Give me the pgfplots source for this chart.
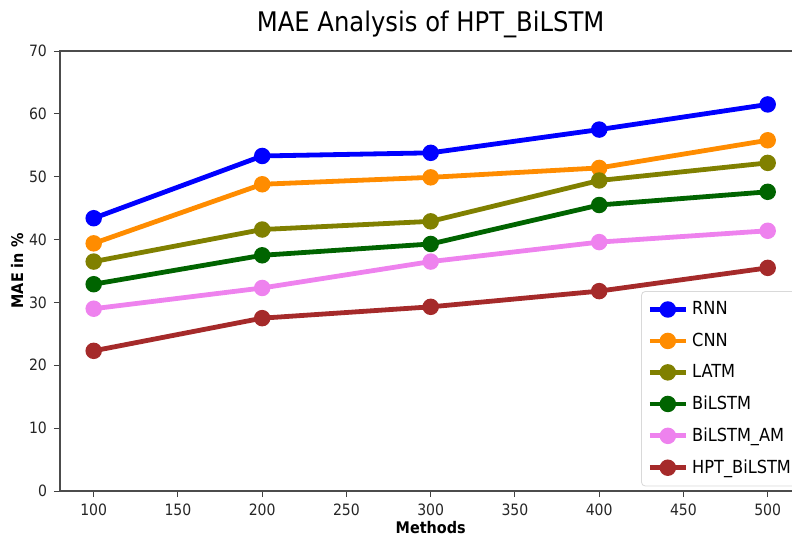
\documentclass[border=0pt]{standalone}
\usepackage{fontspec}
\setmainfont{DejaVu Sans Condensed}
\usepackage{pgfplots}
\pgfplotsset{compat=1.18}

\definecolor{cRNN}{RGB}{0,0,255}
\definecolor{cCNN}{RGB}{255,140,0}
\definecolor{cLATM}{RGB}{128,128,0}
\definecolor{cBiLSTM}{RGB}{0,100,0}
\definecolor{cAM}{RGB}{238,130,238}
\definecolor{cHPT}{RGB}{165,42,42}

\begin{document}
\begin{tikzpicture}
\clip (-30pt,-23.5pt) rectangle (366pt,245.5pt);
\begin{axis}[
    scale only axis,
    width=370.7pt,
    height=220pt,
    xmin=80, xmax=520,
    ymin=0, ymax=70,
    xtick={100,150,...,500},
    ytick={0,10,...,70},
    tick align=outside,
    tick pos=left,
    major tick length=3pt,
    tick style={black!75, line width=0.5pt},
    axis line style={black!70, line width=0.7pt},
    /pgf/number format/assume math mode=true,
    tick label style={font=\fontsize{7.8}{9}\selectfont, text=black!85},
    xlabel={\textbf{Methods}},
    ylabel={\textbf{MAE in \%}},
    label style={font=\fontsize{8}{9}\selectfont},
    xlabel style={yshift=4pt},
    ylabel style={yshift=-4pt},
    title={MAE Analysis of HPT\_BiLSTM},
    title style={font=\fontsize{13.5}{15}\selectfont, yshift=-3pt},
    legend cell align=left,
    legend style={
        at={(0.7837,0.4545)}, anchor=north west,
        font=\fontsize{9}{10}\selectfont,
        draw=black!15, rounded corners=2pt,
        row sep=3.6pt, inner sep=3pt,
    },
    legend image code/.code={
        \draw[#1] (0pt,0pt) -- (18pt,0pt);
        \fill[#1] (9pt,0pt) circle (2.9pt);
    },
    every axis plot/.append style={line width=2.4pt, mark=*, mark size=2.9pt},
]
\addplot[cRNN, mark options={draw=none, fill=cRNN}] coordinates {(100,43.4) (200,53.3) (300,53.8) (400,57.5) (500,61.5)};
\addlegendentry{RNN}
\addplot[cCNN, mark options={draw=none, fill=cCNN}] coordinates {(100,39.4) (200,48.8) (300,49.9) (400,51.4) (500,55.8)};
\addlegendentry{CNN}
\addplot[cLATM, mark options={draw=none, fill=cLATM}] coordinates {(100,36.5) (200,41.6) (300,42.9) (400,49.4) (500,52.2)};
\addlegendentry{LATM}
\addplot[cBiLSTM, mark options={draw=none, fill=cBiLSTM}] coordinates {(100,32.9) (200,37.5) (300,39.3) (400,45.5) (500,47.6)};
\addlegendentry{BiLSTM}
\addplot[cAM, mark options={draw=none, fill=cAM}] coordinates {(100,29.0) (200,32.3) (300,36.5) (400,39.6) (500,41.4)};
\addlegendentry{BiLSTM\_AM}
\addplot[cHPT, mark options={draw=none, fill=cHPT}] coordinates {(100,22.3) (200,27.5) (300,29.3) (400,31.8) (500,35.5)};
\addlegendentry{HPT\_BiLSTM}
\end{axis}
\end{tikzpicture}
\end{document}
